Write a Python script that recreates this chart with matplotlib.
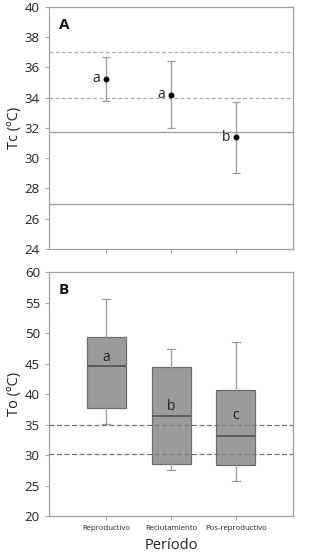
import matplotlib
matplotlib.use("Agg")
import matplotlib.pyplot as plt

plt.rcParams['font.family'] = ['Open Sans', 'DejaVu Sans']

categories = ["Reproductivo", "Reclutamiento", "Pos-reproductivo"]

# Panel A: mean Tc with error range
tc_mean = [35.25, 34.2, 31.4]
tc_upper = [36.7, 36.4, 33.7]
tc_lower = [33.8, 32.0, 29.05]
tc_letters = ["a", "a", "b"]
a_dashed = [37.0, 34.0]
a_solid = [31.75, 27.0]

# Panel B: To box plots
to_whislo = [35.1, 27.5, 25.8]
to_q1 = [37.7, 28.6, 28.3]
to_med = [44.6, 36.4, 33.1]
to_q3 = [49.3, 44.5, 40.6]
to_whishi = [55.5, 47.4, 48.5]
to_letters = ["a", "b", "c"]
to_letter_y = [46.0, 38.0, 36.5]
b_dashed = [35.0, 30.2]

fig = plt.figure(figsize=(3.2, 5.59), dpi=100)
axA = fig.add_axes([0.153, 0.5546, 0.763, 0.4329])
axB = fig.add_axes([0.153, 0.0769, 0.763, 0.4365])

spine_col = "#a0a0a0"
xs = list(range(len(categories)))

for ax in (axA, axB):
    for s in ax.spines.values():
        s.set_color(spine_col)
        s.set_linewidth(0.9)
    ax.tick_params(axis='both', colors=spine_col, labelcolor="#222222", length=3, width=0.8, labelsize=9.5)
    ax.set_xlim(-0.88, 2.88)

# Panel A
for y in a_dashed:
    axA.axhline(y, color="#a8a8a8", lw=0.9, ls=(0, (3, 2)))
for y in a_solid:
    axA.axhline(y, color="#a0a0a0", lw=1.0)
yerr = [[m - l for m, l in zip(tc_mean, tc_lower)], [u - m for m, u in zip(tc_mean, tc_upper)]]
axA.errorbar(xs, tc_mean, yerr=yerr, fmt='o', color="black", ms=3.2,
             ecolor="#9a9a9a", elinewidth=0.9, capsize=3, capthick=0.9)
for x, y, t in zip(xs, tc_mean, tc_letters):
    axA.text(x - 0.09, y, t, ha='right', va='center', fontsize=10, color="#222222")
axA.set_ylim(24, 40)
axA.set_yticks(range(24, 41, 2))
axA.set_xticks(xs)
axA.set_xticklabels([])
axA.set_ylabel("Tc (ºC)", fontsize=10.5, color="#222222", labelpad=2)
axA.text(0.04, 0.955, "A", transform=axA.transAxes, fontsize=11, fontweight='bold',
         ha='left', va='top', color="#111111")

# Panel B
for y in b_dashed:
    axB.axhline(y, color="#777777", lw=0.9, ls=(0, (4, 2)), zorder=3)
stats = []
for i in range(len(categories)):
    stats.append(dict(whislo=to_whislo[i], q1=to_q1[i], med=to_med[i], q3=to_q3[i],
                      whishi=to_whishi[i], fliers=[], label=categories[i]))
axB.bxp(stats, positions=xs, widths=0.6, patch_artist=True, showfliers=False,
        boxprops=dict(facecolor="#9b9b9b", edgecolor="#6e6e6e", linewidth=0.9),
        medianprops=dict(color="#555555", linewidth=1.3),
        whiskerprops=dict(color="#9a9a9a", linewidth=0.9),
        capprops=dict(color="#9a9a9a", linewidth=0.9), capwidths=0.12)
for x, y, t in zip(xs, to_letter_y, to_letters):
    axB.text(x, y, t, ha='center', va='center', fontsize=10, color="#222222", zorder=4)
axB.set_ylim(20, 60)
axB.set_yticks(range(20, 61, 5))
axB.set_xticks(xs)
axB.set_xticklabels(categories, fontsize=5.6)
axB.set_xlim(-0.88, 2.88)
axB.set_ylabel("To (ºC)", fontsize=10.5, color="#222222", labelpad=2)
axB.set_xlabel("Período", fontsize=10.5, color="#222222", labelpad=4)
axB.text(0.04, 0.955, "B", transform=axB.transAxes, fontsize=11, fontweight='bold',
         ha='left', va='top', color="#111111")

fig.savefig("out.png", dpi=100)
